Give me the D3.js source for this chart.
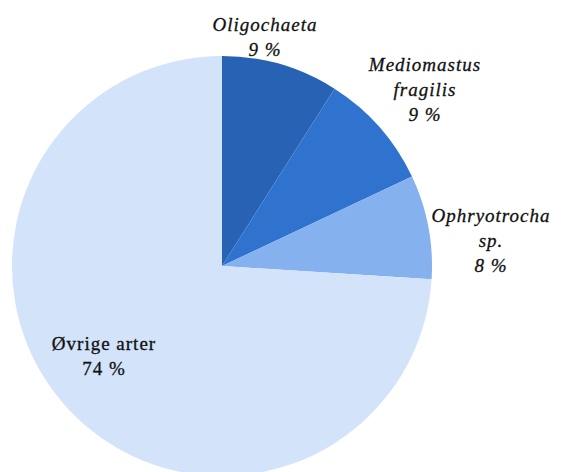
<!DOCTYPE html>
<html><head><meta charset="utf-8">
<script src="https://cdn.jsdelivr.net/npm/d3@7"></script>
<style>body{margin:0;background:#fff}svg{display:block}
.lbl{font-family:'Liberation Serif','DejaVu Serif','Times New Roman',serif}</style>
</head><body>
<svg id="c" width="562" height="472"></svg>
<script>
const categories = ["Oligochaeta", "Mediomastus fragilis", "Ophryotrocha sp.", "Øvrige arter"];
const values = [9, 9, 8, 74];
const labelLines = [["Oligochaeta", "9 %"], ["Mediomastus", "fragilis", "9 %"], ["Ophryotrocha", "sp.", "8 %"], ["Øvrige arter", "74 %"]];
const colors = ["#2862b4", "#2f73cf", "#86b1ef", "#d3e3fa"];
const labelPos = [[265, 31], [425, 71], [491, 222], [104, 350]];
const italic = [true, true, true, false];

const svg = d3.select("#c");
const cx = 222, cy = 266, r = 210;
const pie = d3.pie().sort(null).value(d => d)(values);
const arc = d3.arc().innerRadius(0).outerRadius(r);
const g = svg.append("g").attr("transform", `translate(${cx},${cy})`);
g.selectAll("path").data(pie).join("path")
  .attr("d", arc).attr("fill", (d, i) => colors[i]);

categories.forEach((c, i) => {
  const t = svg.append("text")
    .attr("class", "lbl")
    .attr("x", labelPos[i][0]).attr("y", labelPos[i][1])
    .attr("text-anchor", "middle")
    .attr("font-size", 19)
    .attr("letter-spacing", 1)
    .attr("font-style", italic[i] ? "italic" : "normal")
    .attr("fill", "#111")
    .attr("stroke", "#111").attr("stroke-width", 0.3);
  labelLines[i].forEach((l, j) => {
    t.append("tspan").attr("x", labelPos[i][0]).attr("dy", j === 0 ? 0 : 25).text(l);
  });
});
</script>
</body></html>
